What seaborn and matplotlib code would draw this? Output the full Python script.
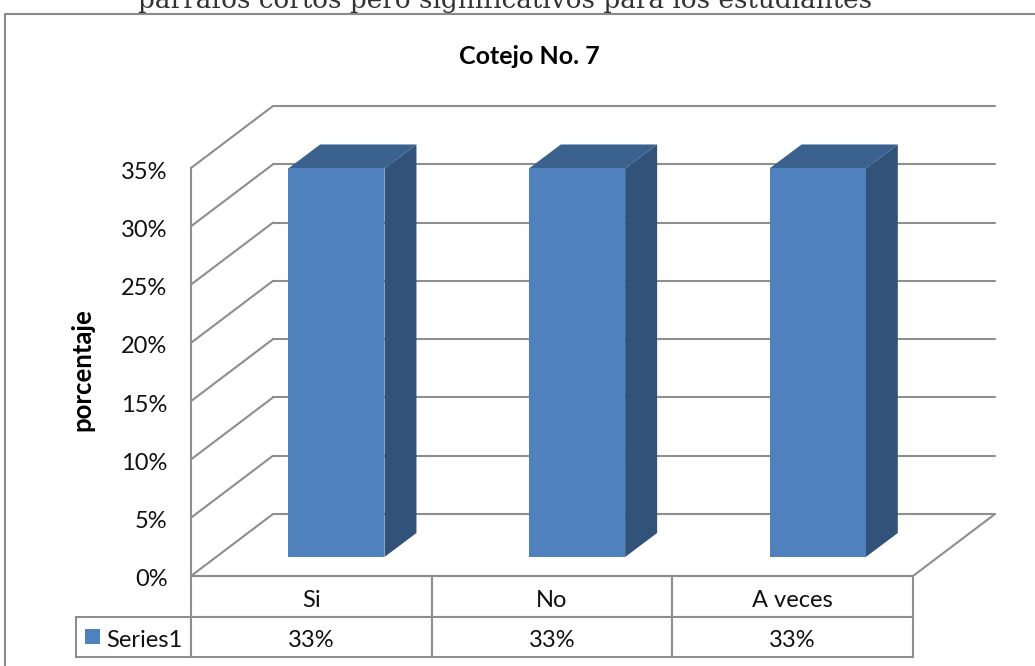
import matplotlib
matplotlib.use("Agg")
import matplotlib.pyplot as plt
import pandas as pd
import seaborn as sns
from matplotlib.lines import Line2D
from matplotlib.patches import Polygon, Rectangle
from matplotlib.ticker import PercentFormatter
from matplotlib.transforms import Affine2D

categories = ["Si", "No", "A veces"]
values = [0.3333, 0.3333, 0.3333]
table_labels = ["33%", "33%", "33%"]
series_name = "Series1"
y_ticks = [0, 0.05, 0.10, 0.15, 0.20, 0.25, 0.30, 0.35]
title = "Cotejo No. 7"
y_label = "porcentaje"
caption = "párrafos cortos pero significativos para los estudiantes"

FRONT, SIDE, TOP = "#4F81BD", "#315279", "#3B618F"
GRID = "#8E8E8E"
W, H = 1035, 666

sns.set_theme(style="white")
plt.rcParams["font.family"] = ["Lato", "DejaVu Sans"]

fig = plt.figure(figsize=(W / 100, H / 100), dpi=100)
ax = fig.add_axes([191 / W, (H - 576) / H, 722 / W, 408 / H])
df = pd.DataFrame({"categoria": categories, "valor": values})
sns.barplot(data=df, x="categoria", y="valor", color=FRONT, saturation=1,
            width=0.4, ax=ax, zorder=4, linewidth=0, edgecolor="none")
ax.set_xlim(-0.5, 2.5)
ax.set_ylim(0, 0.35)
ax.set_yticks(y_ticks)
ax.yaxis.set_major_formatter(PercentFormatter(xmax=1, decimals=0))
ax.tick_params(axis="y", length=0, pad=17, labelsize=17, labelcolor="#111111")
for tick in ax.yaxis.get_major_ticks():
    tick.label1.set_transform(tick.label1.get_transform() + Affine2D().translate(0, -2))
ax.set_xticks([])
ax.set_xlabel("")
ax.set_ylabel(y_label, fontsize=18.5, fontweight="bold", color="black")
ax.yaxis.set_label_coords(-0.134, 0.505)
ax.set_facecolor("none")
for name, spine in ax.spines.items():
    spine.set_visible(name in ("left", "bottom"))
    spine.set_color(GRID)
    spine.set_linewidth(1.5)


def depth(dx, dy):
    return ax.transData + Affine2D().translate(dx, dy)


WALL_DX, WALL_DY = 82, 62
x0, x1 = ax.get_xlim()
for t in y_ticks:
    ax.plot([x0, x1], [t, t], transform=depth(WALL_DX, WALL_DY), color=GRID, lw=1.5,
            clip_on=False, zorder=1, solid_capstyle="round", scalex=False, scaley=False)
    p = ax.transData.transform((x0, t))
    ax.add_artist(Line2D([p[0], p[0] + WALL_DX], [p[1], p[1] + WALL_DY],
                         transform=None, color=GRID, lw=1.5, clip_on=False, zorder=1))
p = ax.transData.transform((x1, 0))
ax.add_artist(Line2D([p[0], p[0] + WALL_DX], [p[1], p[1] + WALL_DY],
                     transform=None, color=GRID, lw=1.5, clip_on=False, zorder=1))

BAR_DX, BAR_DY = 25, 19
DEPTH_DX, DEPTH_DY = 32, 24
front_tf = depth(BAR_DX, BAR_DY)
for bar in list(ax.patches):
    bar.set_transform(front_tf)
    bar.set_clip_on(False)
    bl = front_tf.transform((bar.get_x(), 0))
    tr = front_tf.transform((bar.get_x() + bar.get_width(), bar.get_height()))
    side = [(tr[0], bl[1]), (tr[0] + DEPTH_DX, bl[1] + DEPTH_DY),
            (tr[0] + DEPTH_DX, tr[1] + DEPTH_DY), (tr[0], tr[1])]
    top = [(bl[0], tr[1]), (tr[0], tr[1]),
           (tr[0] + DEPTH_DX, tr[1] + DEPTH_DY), (bl[0] + DEPTH_DX, tr[1] + DEPTH_DY)]
    ax.add_artist(Polygon(side, closed=True, transform=None, fc=SIDE, ec="none",
                          clip_on=False, zorder=3))
    ax.add_artist(Polygon(top, closed=True, transform=None, fc=TOP, ec="none",
                          clip_on=False, zorder=3))

label_w = 115 / 722
table = ax.table(cellText=[[""] + categories, [series_name] + table_labels],
                 colWidths=[label_w] + [1 / 3] * 3,
                 cellLoc="center",
                 bbox=[-label_w, -81 / 408, 1 + label_w, 81 / 408])
table.auto_set_font_size(False)
table.set_fontsize(17)
for (r, c), cell in table.get_celld().items():
    cell.set_edgecolor(GRID)
    cell.set_linewidth(1.5)
    cell.get_text().set_color("#111111")
    cell.get_text().set_transform(Affine2D().translate(0, -4))
table[(0, 0)].set_visible(False)
table[(1, 0)].get_text().set_ha("left")
table[(1, 0)].PAD = 30 / 115

px = Affine2D().scale(1, -1).translate(0, H)
fig.add_artist(Rectangle((85, 629), 15, 15, transform=px, fc=FRONT, ec="none"))
fig.add_artist(Line2D([4.5, 4.5, W], [H, 13.5, 13.5], transform=px, color="#8A8A8A", lw=1.5))
fig.text(529 / W, 1 - 56 / H, title, ha="center", va="center", fontsize=18,
         fontweight="bold", color="black")
fig.text(505 / W, 1 - 8 / H, caption, ha="center", va="baseline", fontsize=18.9,
         family="DejaVu Serif", color="#333333")

fig.savefig("out.png", dpi=100, facecolor="white")
